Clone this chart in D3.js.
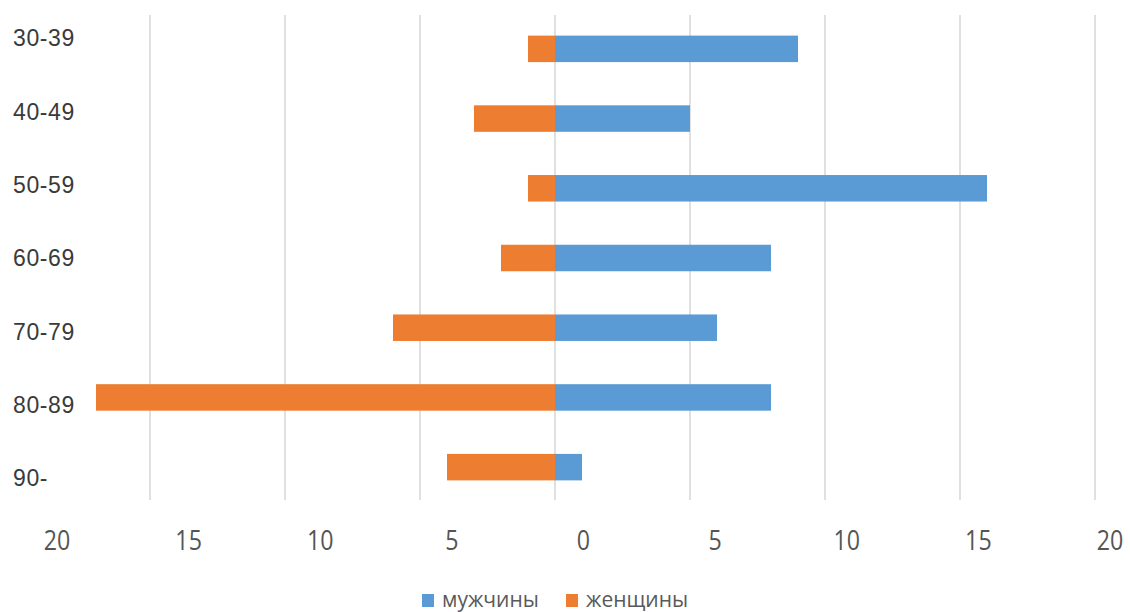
<!DOCTYPE html>
<html>
<head>
<meta charset="utf-8">
<script src="https://cdn.jsdelivr.net/npm/d3@7"></script>
<style>
  html, body { margin: 0; padding: 0; background: #fff; }
  svg { display: block; }
</style>
</head>
<body>
<svg id="chart" width="1130" height="612"></svg>
<script>
// Age groups and counts per sex
const ageGroups = ["30-39", "40-49", "50-59", "60-69", "70-79", "80-89", "90-"];
const men   = [9, 5, 16, 8, 6, 8, 1];
const women = [1, 3, 1, 2, 6, 17, 4];
const gridValues = [-15, -10, -5, 0, 5, 10, 15, 20];
const tickValues = [-20, -15, -10, -5, 0, 5, 10, 15, 20];
const seriesNames = ["мужчины", "женщины"];
const seriesColors = ["#5B9BD5", "#ED7D31"];

const svg = d3.select("#chart");

// Value axis for the bars and gridlines
const x = d3.scaleLinear().domain([-20, 20]).range([15, 1095]);
// Value axis used for the tick labels underneath
const xLabel = d3.scaleLinear().domain([-20, 20]).range([57, 1110]);

// Category bands for the bars
const y = d3.scaleBand().domain(ageGroups).range([14, 502])
  .paddingInner(0.62).paddingOuter(0.31);
// Category positions for the row labels
const yLabel = d3.scalePoint().domain(ageGroups).range([38, 478]);

// Vertical gridlines
svg.append("g").selectAll("line")
  .data(gridValues)
  .join("line")
  .attr("x1", d => x(d)).attr("x2", d => x(d))
  .attr("y1", 15).attr("y2", 500)
  .attr("stroke", "#d6d6d6")
  .attr("stroke-width", 1.5);

// Women: to the left of zero
svg.append("g").selectAll("rect")
  .data(ageGroups)
  .join("rect")
  .attr("x", (d, i) => x(-women[i]))
  .attr("y", d => y(d))
  .attr("width", (d, i) => x(0) - x(-women[i]))
  .attr("height", y.bandwidth())
  .attr("fill", seriesColors[1]);

// Men: to the right of zero
svg.append("g").selectAll("rect")
  .data(ageGroups)
  .join("rect")
  .attr("x", x(0))
  .attr("y", d => y(d))
  .attr("width", (d, i) => x(men[i]) - x(0))
  .attr("height", y.bandwidth())
  .attr("fill", seriesColors[0]);

// Row labels
svg.append("g").selectAll("text")
  .data(ageGroups)
  .join("text")
  .attr("x", 13)
  .attr("y", d => yLabel(d))
  .attr("dy", "0.36em")
  .attr("font-family", "'Liberation Sans', Arial, sans-serif")
  .attr("font-size", 23)
  .attr("letter-spacing", 0.6)
  .attr("fill", "#3a3a3a")
  .text(d => d);

// Tick labels (absolute values on both sides)
svg.append("g").selectAll("text")
  .data(tickValues)
  .join("text")
  .attr("transform", d => `translate(${xLabel(d)},540) scale(0.86,1)`)
  .attr("text-anchor", "middle")
  .attr("dy", "0.36em")
  .attr("font-family", "'Open Sans', sans-serif")
  .attr("font-size", 27)
  .attr("fill", "#555555")
  .text(d => Math.abs(d));

// Legend
const legendX = [422, 566];
const legend = svg.append("g").selectAll("g")
  .data(seriesNames)
  .join("g")
  .attr("transform", (d, i) => `translate(${legendX[i]},594)`);
legend.append("rect")
  .attr("width", 12).attr("height", 13)
  .attr("fill", (d, i) => seriesColors[i]);
legend.append("text")
  .attr("x", 20).attr("y", 13)
  .attr("font-family", "'Open Sans', sans-serif")
  .attr("font-size", 21)
  .attr("fill", "#595959")
  .text(d => d);
</script>
</body>
</html>
